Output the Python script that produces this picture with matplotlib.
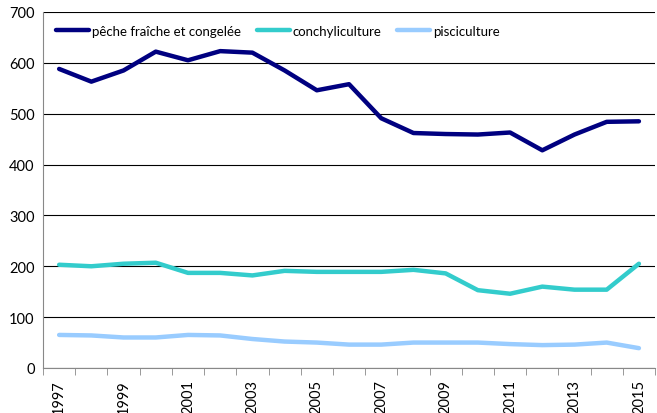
import matplotlib.pyplot as plt
import numpy as np

years = list(range(1997, 2016))
peche = [588, 563, 585, 622, 605, 623, 620, 585, 546, 558, 491, 462, 460, 459, 463, 428, 459, 484, 485]
conchyliculture = [203, 200, 205, 207, 187, 187, 182, 191, 189, 189, 189, 193, 186, 153, 146, 160, 154, 154, 205]
pisciculture = [65, 64, 60, 60, 65, 64, 57, 52, 50, 46, 46, 50, 50, 50, 47, 45, 46, 50, 39]

plt.rcParams['font.family'] = ['Lato', 'DejaVu Sans']

fig = plt.figure(figsize=(6.57, 4.14), dpi=100)
ax = fig.add_axes([0.0655, 0.1087, 0.9315, 0.86])

x = np.arange(len(years))
ax.plot(x, peche, color='#000080', lw=3.2, label='pêche fraîche et congelée', solid_capstyle='round')
ax.plot(x, conchyliculture, color='#33CCCC', lw=3.2, label='conchyliculture', solid_capstyle='round')
ax.plot(x, pisciculture, color='#99CCFF', lw=3.2, label='pisciculture', solid_capstyle='round')

ax.set_xlim(-0.5, len(years) - 0.5)
ax.set_ylim(0, 700)
ax.set_yticks(range(0, 701, 100))
ax.yaxis.grid(True, color='#000000', lw=0.8)
ax.set_axisbelow(True)

ax.set_xticks(x[::2])
ax.set_xticklabels([str(y) for y in years[::2]], rotation=90, fontsize=10.5)
ax.set_xticks(np.arange(-0.5, len(years)), minor=True)
ax.tick_params(axis='x', which='major', length=0, pad=8)
ax.tick_params(axis='x', which='minor', length=5, color='#888888', direction='out')
ax.tick_params(axis='y', length=0, labelsize=10.5, pad=6)

for side in ['top', 'right']:
    ax.spines[side].set_visible(False)
ax.spines['left'].set_color('#888888')
ax.spines['bottom'].set_color('#888888')

ax.legend(loc='center left', bbox_to_anchor=(0.022, 0.947), ncol=3, frameon=False,
          borderaxespad=0, borderpad=0,
          fontsize=9.5, handlelength=2.5, handletextpad=0.2, columnspacing=1.2)

fig.savefig('out.png', dpi=100)
